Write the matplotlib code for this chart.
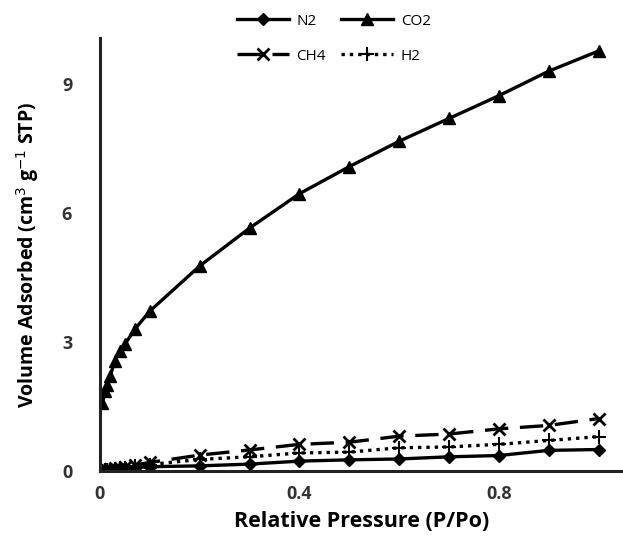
import numpy as np
import matplotlib.pyplot as plt

plt.rcParams['font.family'] = ['Open Sans', 'DejaVu Sans']

# relative pressure points
p = [0.005, 0.01, 0.015, 0.02, 0.03, 0.04, 0.05, 0.07, 0.1,
     0.2, 0.3, 0.4, 0.5, 0.6, 0.7, 0.8, 0.9, 1.0]

n2 = [0.01, 0.02, 0.02, 0.03, 0.04, 0.05, 0.06, 0.08, 0.10,
      0.12, 0.16, 0.23, 0.26, 0.28, 0.33, 0.36, 0.48, 0.50]
co2 = [1.58, 1.86, 2.0, 2.2, 2.56, 2.8, 2.95, 3.3, 3.72,
       4.77, 5.65, 6.45, 7.08, 7.67, 8.2, 8.73, 9.3, 9.77]
ch4 = [0.01, 0.02, 0.03, 0.04, 0.06, 0.08, 0.10, 0.14, 0.20,
       0.37, 0.49, 0.62, 0.67, 0.81, 0.86, 0.98, 1.06, 1.22]
h2 = [0.01, 0.02, 0.02, 0.03, 0.05, 0.06, 0.08, 0.11, 0.15,
      0.27, 0.33, 0.42, 0.44, 0.54, 0.56, 0.62, 0.71, 0.80]

fig = plt.figure(figsize=(6.23, 5.48), dpi=100)
ax = fig.add_axes([0.1605, 0.1405, 0.8395, 0.79])

lw = 2.4
l1, = ax.plot(p, n2, '-', color='black', lw=lw, marker='D', ms=6, label='N2')
l2, = ax.plot(p, co2, '-', color='black', lw=lw, marker='^', ms=8, label='CO2')
l3, = ax.plot(p, ch4, color='black', lw=lw, ls=(0, (7, 3.5)), marker='x', ms=8, mew=2, label='CH4')
l4, = ax.plot(p, h2, color='black', lw=lw, ls=(0, (1, 1.5)), marker='+', ms=10, mew=1.5, label='H2')

ax.set_xlim(0, 1.049)
ax.set_ylim(0, 10.07)
ax.set_xticks([0, 0.4, 0.8])
ax.set_xticklabels(['0', '0.4', '0.8'])
ax.set_yticks([0, 3, 6, 9])

for s in ['top', 'right']:
    ax.spines[s].set_visible(False)
for s in ['left', 'bottom']:
    ax.spines[s].set_linewidth(2.2)
    ax.spines[s].set_color('#222222')

ax.tick_params(length=0, labelsize=13)
ax.tick_params(axis='x', pad=10)
ax.tick_params(axis='y', pad=20)
for t in ax.get_xticklabels() + ax.get_yticklabels():
    t.set_fontweight('bold')
    t.set_color('#333333')

ax.set_xlabel('Relative Pressure (P/Po)', fontsize=15.5, fontweight='bold', labelpad=6)
ax.set_ylabel('Volume Adsorbed (cm$^3$ g$^{-1}$ STP)', fontsize=14, fontweight='bold', labelpad=15)

# row-wise order: N2, CO2 / CH4, H2
fig.legend([l1, l3, l2, l4], ['N2', 'CH4', 'CO2', 'H2'],
           loc='upper center', bbox_to_anchor=(0.536, 1.0), ncol=2, frameon=False,
           fontsize=11, handlelength=3.4, handletextpad=0.5, columnspacing=1.0,
           labelspacing=1.3, borderaxespad=0.5)

fig.savefig('out.png', dpi=100)
